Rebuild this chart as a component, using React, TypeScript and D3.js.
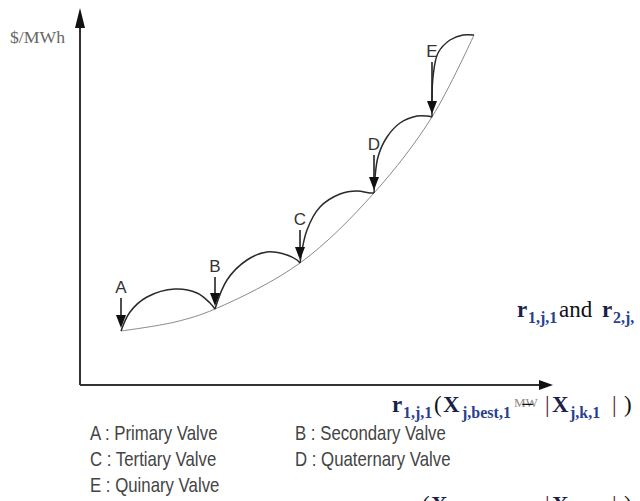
import React from 'react';
import * as d3 from 'd3';

// valve points on the base (smooth) fuel cost curve
const valveLabels = ['A', 'B', 'C', 'D', 'E'];
const valveMW = [41, 135, 220, 294, 352];
const valveCost = [54, 76, 122, 192, 268];
const arrowTopCost = [87, 108, 155, 230, 323];

// base curve (thin grey line)
const baseMW = [41, 95, 135, 220, 294, 352, 394];
const baseCost = [54, 63, 76, 122, 192, 268, 350];

// rippled curve, one arc per valve
const arcMW = [
  [41, 50, 67, 95, 117, 130, 135],
  [135, 147, 167, 187, 207, 217, 220],
  [220, 227, 240, 260, 277, 290, 294],
  [294, 298, 307, 320, 337, 347, 352],
  [352, 353, 358, 370, 383, 394],
];
const arcCost = [
  [54, 73, 88, 96, 92, 82, 76],
  [76, 105, 125, 133, 130, 125, 122],
  [122, 155, 178, 191, 194, 192, 192],
  [192, 228, 248, 262, 269, 269, 268],
  [268, 308, 332, 345, 350, 350],
];

const legendItems = [
  'A : Primary Valve',
  'B : Secondary Valve',
  'C : Tertiary Valve',
  'D : Quaternary Valve',
  'E : Quinary Valve',
];

const serif = '"Liberation Serif", "DejaVu Serif", serif';
const sans = '"Liberation Sans", Arial, sans-serif';
const navy = '#1b1f4a';
const blue = '#2b3f8f';
const bar = '#5a1838';

// one piece of the stray equation text: [text, x, kind]
type Piece = [string, number, 'r' | 's' | 'p' | 'b'];

function Formula({ pieces, base }: { pieces: Piece[]; base: number }) {
  return (
    <g fontFamily={serif}>
      {pieces.map(([t, px, kind], i) => {
        if (kind === 's') {
          return <text key={i} x={px} y={base + 6} fontSize={16} fontWeight="bold" fill={blue}>{t}</text>;
        }
        if (kind === 'b') {
          return <text key={i} x={px} y={base} fontSize={23} fill={bar}>{t}</text>;
        }
        return (
          <text key={i} x={px} y={base} fontSize={23} fontWeight={kind === 'r' ? 'bold' : 'normal'}
            fill={kind === 'r' ? navy : '#111'}>{t}</text>
        );
      })}
    </g>
  );
}

export default function App() {
  const width = 640, height = 501;
  const x = d3.scaleLinear().domain([0, 473]).range([80, 553]);
  const y = d3.scaleLinear().domain([0, 377]).range([385, 8]);

  const line = d3.line<[number, number]>()
    .x(d => x(d[0]))
    .y(d => y(d[1]))
    .curve(d3.curveCatmullRom.alpha(0.5));

  const basePts = baseMW.map((m, i) => [m, baseCost[i]] as [number, number]);
  const arcs = arcMW.map((ms, k) => ms.map((m, i) => [m, arcCost[k][i]] as [number, number]));

  const [x0, x1] = x.range();
  const [y0, y1] = y.range();

  return (
    <svg width={width} height={height}
      style={{ position: 'absolute', left: 0, top: 0, background: '#fff' }}>
      {/* axes */}
      <line x1={x0} y1={y0} x2={x0} y2={y1 + 18} stroke="#333" strokeWidth={2} />
      <path d={`M${x0},${y1} L${x0 - 5},${y1 + 20} L${x0 + 5},${y1 + 20} Z`} fill="#111" />
      <line x1={x0} y1={y0} x2={x1 - 12} y2={y0} stroke="#333" strokeWidth={2} />
      <path d={`M${x1},${y0} L${x1 - 14},${y0 - 5} L${x1 - 14},${y0 + 5} Z`} fill="#111" />
      <text x={10} y={43} fontFamily={serif} fontSize={16} fill="#666"
        textLength={55} lengthAdjust="spacingAndGlyphs">$/MWh</text>

      {/* base curve */}
      <path d={line(basePts) || ''} fill="none" stroke="#8a8a8a" strokeWidth={1} />
      {/* valve-point arcs */}
      {arcs.map((a, i) => (
        <path key={i} d={line(a) || ''} fill="none" stroke="#2a2a2a" strokeWidth={1.5} />
      ))}

      {/* valve arrows and labels */}
      {valveLabels.map((lab, i) => {
        const ax = x(valveMW[i]);
        const tip = y(valveCost[i]) - 3;
        const top = y(arrowTopCost[i]);
        return (
          <g key={lab}>
            <line x1={ax} y1={top} x2={ax} y2={tip - 10} stroke="#222" strokeWidth={1.6} />
            <path d={`M${ax},${tip} L${ax - 5},${tip - 13} L${ax + 5},${tip - 13} Z`} fill="#111" />
            <text x={ax} y={top - 5} textAnchor="middle" fontFamily={sans}
              fontSize={17} fill="#333">{lab}</text>
          </g>
        );
      })}

      {/* legend (narrow sans) */}
      {legendItems.map((t, i) => (
        <text key={t}
          transform={`translate(${i % 2 === 0 ? 90 : 295},${440 + Math.floor(i / 2) * 26}) scale(0.84,1)`}
          fontFamily={sans} fontSize={20} fill="#444">{t}</text>
      ))}

      {/* stray equation text overlapping the figure */}
      <Formula base={317} pieces={[
        ['r', 517, 'r'], ['1,j,1', 528, 's'], ['and', 559, 'p'], ['r', 602, 'r'], ['2,j,', 613, 's'],
      ]} />

      <text x={514} y={407} fontFamily={serif} fontSize={13} fill="#8a8a8a">MW</text>
      <Formula base={412} pieces={[
        ['r', 392, 'r'], ['1,j,1', 403, 's'], ['(', 434, 'p'], ['X', 443, 'r'], ['j,best,1', 462, 's'],
        ['−', 521, 'p'], ['|', 545, 'b'], ['X', 552, 'r'], ['j,k,1', 570, 's'], ['|', 612, 'b'], [')', 624, 'p'],
      ]} />

      <Formula base={512} pieces={[
        ['r', 380, 'r'], ['2,j,1', 391, 's'], ['(', 422, 'p'], ['X', 431, 'r'], ['j,best,1', 450, 's'],
        ['|', 545, 'b'], ['X', 552, 'r'], ['j,k,1', 570, 's'], ['|', 612, 'b'], [')', 624, 'p'],
      ]} />
    </svg>
  );
}
